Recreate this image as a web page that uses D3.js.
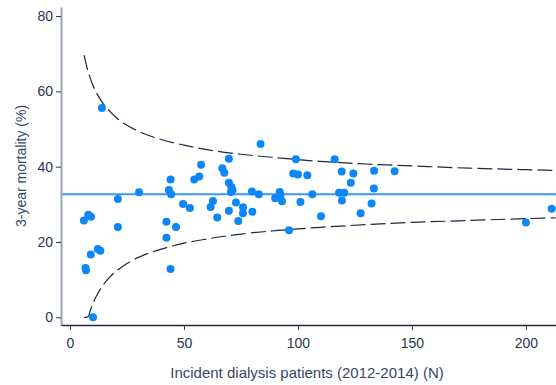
<!DOCTYPE html>
<html>
<head>
<meta charset="utf-8">
<script src="https://cdn.jsdelivr.net/npm/d3@7"></script>
<style>
  html, body { margin: 0; padding: 0; background: #fff; }
  svg { display: block; font-family: "Liberation Sans", Arial, sans-serif; }
</style>
</head>
<body>
<svg id="chart" width="556" height="385"></svg>
<script>
// Centre-level 3-year mortality vs. number of incident dialysis patients
const patients = [
  6.1, 8.0, 9.2, 21.0, 30.3, 21.0, 12.2, 13.3, 9.1, 6.8, 7.0, 10.1, 14.0,
  44.1, 43.4, 44.4, 49.6, 52.6, 42.3, 46.5, 42.3, 44.1, 54.5, 56.7, 57.5,
  62.7, 61.7, 64.6, 66.8, 67.7, 69.7, 69.7, 70.8, 71.3, 70.6, 72.8, 69.7,
  75.9, 75.9, 73.8, 79.8, 80.0, 82.8, 83.6, 99.1, 116.1, 97.9, 100.0, 104.1,
  92.0, 92.3, 90.0, 93.0, 101.1, 106.3, 110.1, 96.1, 119.2, 124.3, 123.2,
  118.0, 120.3, 119.3, 127.5, 133.4, 142.4, 133.3, 132.3, 200.0, 211.3
];
const mortality = [
  25.7, 27.2, 26.7, 31.4, 33.2, 24.0, 18.1, 17.7, 16.7, 13.1, 12.5, 0.0, 55.6,
  36.6, 33.8, 32.7, 30.1, 29.0, 25.4, 24.0, 21.1, 12.8, 36.6, 37.4, 40.5,
  30.9, 29.3, 26.5, 39.6, 38.4, 42.1, 35.7, 34.6, 33.8, 33.3, 30.5, 28.3,
  29.2, 27.6, 25.6, 33.4, 28.0, 32.7, 46.0, 42.0, 42.0, 38.2, 37.9, 37.7,
  33.3, 32.4, 31.6, 30.8, 30.6, 32.7, 26.8, 23.1, 38.7, 38.2, 35.7,
  33.1, 33.1, 31.0, 27.6, 38.9, 38.8, 34.2, 30.2, 25.2, 28.8
];

// Overall mortality (reference line)
const overallMortality = 32.66;

// 95% control limits of the funnel
const limitN     = [6.2, 7, 8, 9, 10, 12, 14, 17, 20, 25, 30, 40, 50, 60, 75, 90, 110, 130, 150, 175, 200, 213];
const upperLimit = [69.6, 67.4, 65.2, 63.3, 61.7, 59.2, 57.2, 55.0, 53.2, 51.0, 49.4, 47.2, 45.7, 44.5, 43.3, 42.4, 41.4, 40.7, 40.2, 39.6, 39.2, 39.0];
const lowerLimit = [0.0, 0.0, 0.2, 2.0, 3.6, 6.1, 8.1, 10.4, 12.1, 14.3, 15.9, 18.1, 19.7, 20.8, 22.1, 23.0, 23.9, 24.6, 25.2, 25.7, 26.2, 26.4];

const xTicks = [0, 50, 100, 150, 200];
const yTicks = [0, 20, 40, 60, 80];

const svg = d3.select("#chart");
const plotLeft = 61, plotRight = 556, plotTop = 7, plotBottom = 325;

const x = d3.scaleLinear().domain([-3.95, 213.2]).range([plotLeft, plotRight]);
const y = d3.scaleLinear().domain([-2.05, 82.4]).range([plotBottom, plotTop]);

const ink = "#2b3550";

// Control limit curves
const limitLine = vals => d3.line()
  .x((d, i) => x(limitN[i]))
  .y((d, i) => y(vals[i]))
  .curve(d3.curveMonotoneX)(vals);

[upperLimit, lowerLimit].forEach(vals => {
  svg.append("path")
    .attr("d", limitLine(vals))
    .attr("fill", "none")
    .attr("stroke", "#1c2742")
    .attr("stroke-width", 1.2)
    .attr("stroke-dasharray", "15,5");
});

// Reference line at overall mortality
svg.append("line")
  .attr("x1", plotLeft).attr("x2", plotRight)
  .attr("y1", y(overallMortality)).attr("y2", y(overallMortality))
  .attr("stroke", "#3898f2")
  .attr("stroke-width", 2);

// Centres
svg.append("g").selectAll("circle")
  .data(patients.map((n, i) => [n, mortality[i]]))
  .join("circle")
  .attr("cx", d => x(d[0]))
  .attr("cy", d => y(d[1]))
  .attr("r", 4)
  .attr("fill", "#0d86f7");

// Y axis
const yAxis = svg.append("g")
  .attr("transform", `translate(${plotLeft},0)`)
  .call(d3.axisLeft(y).tickValues(yTicks).tickSize(5).tickSizeOuter(0).tickPadding(3));
yAxis.select(".domain").attr("stroke", "#9ba3b5").attr("stroke-width", 2);
yAxis.selectAll(".tick line").attr("stroke", ink);
yAxis.selectAll(".tick text")
  .attr("fill", ink).style("font-size", "14px")
  .style("font-family", "'Liberation Sans', Arial, sans-serif");

// X axis
const xAxis = svg.append("g")
  .attr("transform", `translate(0,${plotBottom})`)
  .call(d3.axisBottom(x).tickValues(xTicks).tickSize(5).tickSizeOuter(0).tickPadding(8));
xAxis.select(".domain").attr("stroke", "#1f2940").attr("stroke-width", 1.6);
xAxis.selectAll(".tick line").attr("stroke", ink);
xAxis.selectAll(".tick text")
  .attr("fill", ink).style("font-size", "14px")
  .style("font-family", "'Liberation Sans', Arial, sans-serif");

// Axis titles
svg.append("text")
  .attr("x", 307).attr("y", 378)
  .attr("text-anchor", "middle")
  .attr("fill", "#3a4666")
  .style("font-size", "15px")
  .text("Incident dialysis patients (2012-2014) (N)");

svg.append("text")
  .attr("transform", "translate(26,166) rotate(-90)")
  .attr("text-anchor", "middle")
  .attr("fill", "#3a4666")
  .style("font-size", "14px")
  .text("3-year mortality (%)");
</script>
</body>
</html>
